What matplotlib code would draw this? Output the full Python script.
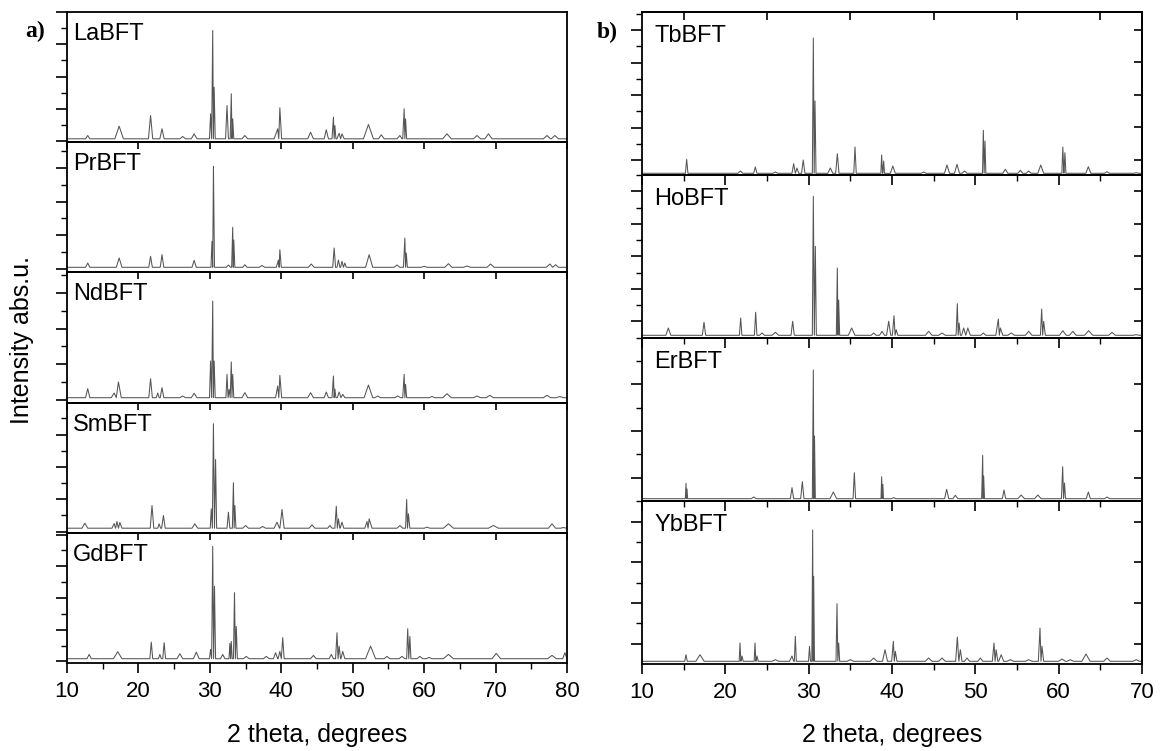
import numpy as np
import matplotlib.pyplot as plt
from matplotlib.ticker import MultipleLocator, NullLocator, FixedLocator

plt.rcParams['font.family'] = ['Liberation Sans', 'DejaVu Sans']

# peak lists: 2theta position, intensity (a.u.), half width of the foot
la_pos = [12.9, 17.3, 21.7, 23.3, 26.2, 27.8, 30.1, 30.4, 30.6, 32.4, 33.0, 33.2, 34.9, 39.5, 39.8,
          44.1, 46.3, 47.3, 47.5, 48.1, 48.5, 52.2, 54.0, 56.6, 57.2, 57.4, 63.2, 67.4, 69.0, 77.2, 78.3]
la_int = [5.7, 15, 25.7, 12.4, 4.7, 7.4, 27.4, 110.7, 54, 35.7, 47.4, 22.4, 5.7, 12.4, 33.4,
          9, 11.4, 24, 15.7, 8, 7.4, 16.7, 6.4, 5.7, 32.4, 22.4, 7.4, 5.7, 7.4, 5.7, 5.7]
la_wid = [0.3, 0.6, 0.3, 0.3, 0.4, 0.4, 0.15, 0.15, 0.15, 0.2, 0.15, 0.15, 0.4, 0.5, 0.25,
          0.4, 0.3, 0.2, 0.15, 0.3, 0.3, 0.7, 0.4, 0.4, 0.2, 0.15, 0.6, 0.5, 0.5, 0.5, 0.5]

pr_pos = [12.9, 17.3, 21.7, 23.3, 27.8, 30.3, 30.5, 32.6, 33.2, 33.35, 34.9, 37.3, 39.6, 39.8, 44.2,
          47.4, 48.0, 48.5, 48.9, 52.3, 56.2, 57.3, 57.5, 60.0, 63.4, 66.0, 69.3, 77.6, 78.4]
pr_int = [6, 11, 12.7, 14.3, 8.7, 27.7, 102.7, 4, 41.7, 29, 4.3, 3.5, 9, 19.3, 5,
          21, 9, 7.7, 6, 14.3, 4, 31, 16, 2.7, 5.3, 3, 5, 5, 4.3]
pr_wid = [0.3, 0.4, 0.25, 0.25, 0.3, 0.15, 0.15, 0.3, 0.15, 0.15, 0.3, 0.4, 0.3, 0.2, 0.4,
          0.2, 0.2, 0.2, 0.2, 0.5, 0.4, 0.2, 0.15, 0.4, 0.5, 0.5, 0.5, 0.5, 0.4]

nd_pos = [12.9, 16.6, 17.2, 21.7, 22.7, 23.3, 26.2, 27.8, 30.1, 30.4, 30.6, 32.4, 32.7, 33.0, 33.2,
          34.9, 39.5, 39.8, 44.1, 46.3, 47.3, 47.5, 48.1, 48.6, 52.2, 53.5, 56.3, 57.2, 57.4, 61.1,
          63.2, 67.4, 69.2, 77.2, 79.0]
nd_int = [11.3, 7, 18, 21.3, 7, 12.3, 4, 6.7, 39, 99, 39, 25.7, 10.7, 38, 25.7,
          7.3, 14, 24.7, 7.3, 8, 24, 11, 8, 5.7, 15, 4, 4, 25.7, 15.7, 3.5,
          6.3, 4, 4.7, 4.7, 3.5]
nd_wid = [0.3, 0.4, 0.4, 0.25, 0.2, 0.25, 0.4, 0.4, 0.15, 0.15, 0.15, 0.15, 0.15, 0.15, 0.15,
          0.4, 0.3, 0.25, 0.4, 0.3, 0.2, 0.15, 0.25, 0.3, 0.6, 0.4, 0.4, 0.2, 0.15, 0.4,
          0.6, 0.5, 0.5, 0.5, 0.5]

sm_pos = [12.5, 16.6, 17.0, 17.4, 21.9, 22.9, 23.5, 27.9, 30.2, 30.5, 30.8, 32.6, 33.3, 33.5, 35.0,
          37.4, 39.4, 40.1, 44.3, 46.8, 47.7, 48.0, 48.5, 52.0, 52.3, 56.6, 57.55, 57.8, 60.4, 63.4,
          69.7, 77.9, 79.5]
sm_int = [8.3, 8, 10, 9, 26, 7.7, 16, 7.7, 22.7, 107.7, 72, 19.3, 48.7, 26, 6,
          5, 9.3, 22, 6.7, 6, 25.3, 12.7, 9.3, 10, 12.7, 6, 32, 17.7, 4.3, 7.7,
          6, 7.7, 4]
sm_wid = [0.4, 0.3, 0.3, 0.3, 0.25, 0.2, 0.25, 0.4, 0.15, 0.15, 0.15, 0.2, 0.15, 0.15, 0.4,
          0.4, 0.4, 0.3, 0.4, 0.3, 0.2, 0.2, 0.25, 0.3, 0.4, 0.4, 0.15, 0.2, 0.4, 0.7,
          0.7, 0.5, 0.4]

gd_pos = [13.1, 17.1, 21.8, 23.0, 23.6, 25.8, 28.1, 30.1, 30.4, 30.65, 31.8, 32.8, 33.0, 33.45, 33.7,
          35.1, 37.9, 39.2, 39.8, 40.2, 44.5, 47.0, 47.8, 48.1, 48.6, 52.5, 54.8, 56.9, 57.7, 58.0,
          59.4, 60.7, 63.4, 70.1, 77.9, 79.7]
gd_int = [7, 9.7, 19.3, 7, 18.7, 7.7, 9.3, 12, 115, 75, 7, 18, 20, 68.7, 35,
          5, 5, 8.7, 10, 23.7, 6, 7, 28.7, 15.3, 10, 15.3, 5, 5, 32.7, 25,
          5, 4, 7, 8, 6, 8.7]
gd_wid = [0.3, 0.6, 0.2, 0.2, 0.2, 0.4, 0.4, 0.15, 0.15, 0.15, 0.3, 0.12, 0.12, 0.15, 0.15,
          0.4, 0.4, 0.3, 0.25, 0.2, 0.4, 0.3, 0.2, 0.2, 0.3, 0.7, 0.4, 0.4, 0.15, 0.15,
          0.4, 0.4, 0.7, 0.6, 0.6, 0.3]

tb_pos = [15.36, 21.8, 23.6, 26.0, 28.2, 28.6, 29.35, 30.56, 30.76, 32.6, 33.44, 35.56, 38.76, 39.0, 40.1,
          43.8, 46.6, 47.8, 48.7, 50.96, 51.16, 53.6, 55.4, 56.4, 57.85, 60.5, 60.75, 63.56, 65.8, 69.3]
tb_int = [15.7, 4, 8, 3, 11.3, 7, 15, 137, 74, 7, 21.3, 28, 20, 14, 9,
          3, 10, 10.7, 4, 44.7, 34, 5.7, 4.7, 4, 10, 28, 22.3, 8.3, 3.3, 2.3]
tb_wid = [0.15, 0.3, 0.2, 0.3, 0.2, 0.2, 0.2, 0.12, 0.12, 0.3, 0.2, 0.15, 0.1, 0.1, 0.3,
          0.3, 0.3, 0.3, 0.3, 0.1, 0.1, 0.3, 0.3, 0.3, 0.35, 0.12, 0.12, 0.3, 0.3, 0.3]

ho_pos = [13.16, 17.44, 21.84, 23.64, 24.4, 26.0, 28.08, 30.56, 30.8, 33.44, 33.6, 35.16, 37.8, 38.8, 39.6,
          40.24, 40.5, 44.4, 46.0, 47.84, 48.05, 48.6, 49.1, 50.96, 52.76, 53.0, 54.3, 56.4, 57.96, 58.2,
          60.5, 61.7, 63.6, 66.4, 69.3]
ho_int = [10, 15.7, 20, 25.7, 5, 5.7, 16.7, 141.7, 91.7, 70, 38, 10, 5, 6.7, 16.7,
          22.3, 8.3, 6.7, 5, 34.3, 15, 10, 10, 5, 19, 10, 5, 6.7, 29, 16.7,
          7.3, 6.7, 7.3, 5.7, 3.3]
ho_wid = [0.3, 0.2, 0.15, 0.15, 0.3, 0.4, 0.2, 0.12, 0.12, 0.12, 0.12, 0.4, 0.3, 0.3, 0.25,
          0.2, 0.2, 0.4, 0.4, 0.15, 0.15, 0.25, 0.3, 0.3, 0.3, 0.3, 0.4, 0.4, 0.15, 0.2,
          0.4, 0.4, 0.5, 0.4, 0.4]

er_pos = [15.28, 15.4, 23.4, 28.0, 29.24, 30.56, 30.7, 32.96, 35.48, 38.76, 38.9, 40.2,
          46.56, 47.6, 50.88, 51.0, 53.44, 55.5, 57.5, 60.48, 60.7, 63.56, 65.8, 69.3]
er_int = [17.7, 12, 4, 13.3, 19.3, 131, 65, 9, 28.3, 24.3, 16.7, 3.3,
          11.7, 5.7, 45.7, 25, 11, 6, 6, 34.3, 18, 9, 4, 2.3]
er_wid = [0.08, 0.08, 0.3, 0.2, 0.2, 0.12, 0.1, 0.4, 0.15, 0.08, 0.08, 0.3,
          0.25, 0.3, 0.12, 0.1, 0.2, 0.4, 0.4, 0.15, 0.12, 0.25, 0.3, 0.3]

yb_pos = [15.28, 16.96, 21.76, 22.0, 23.56, 23.8, 26.0, 28.0, 28.4, 30.1, 30.48, 30.6, 33.4, 33.6, 35.0,
          37.8, 39.16, 40.16, 40.4, 44.4, 46.0, 47.84, 48.2, 49.0, 50.6, 52.24, 52.5, 53.1, 54.2, 56.4,
          57.76, 58.0, 60.4, 61.4, 63.28, 65.8, 69.3]
yb_int = [9.3, 9.3, 21, 8, 21, 8, 4.3, 8, 27.7, 17.7, 134, 87.7, 60.3, 21, 4.3,
          6, 14.3, 22.7, 12.7, 6, 6, 27, 14.3, 6, 6, 21, 14.3, 9.3, 4.3, 4.3,
          36, 17.7, 5, 4.3, 10, 6, 4.3]
yb_wid = [0.15, 0.5, 0.1, 0.15, 0.1, 0.15, 0.4, 0.3, 0.12, 0.12, 0.1, 0.1, 0.12, 0.12, 0.4,
          0.4, 0.3, 0.2, 0.2, 0.4, 0.4, 0.2, 0.2, 0.3, 0.3, 0.2, 0.2, 0.3, 0.4, 0.4,
          0.2, 0.2, 0.4, 0.4, 0.5, 0.4, 0.4]

left_names = ['LaBFT', 'PrBFT', 'NdBFT', 'SmBFT', 'GdBFT']
left_peaks = [(la_pos, la_int, la_wid), (pr_pos, pr_int, pr_wid), (nd_pos, nd_int, nd_wid),
              (sm_pos, sm_int, sm_wid), (gd_pos, gd_int, gd_wid)]
left_base = [2.4, 1.7, 2.3, 3.3, 2.7]
left_ylim = [(-1, 129.2), (-3.4, 126.8), (-2.6, 127.6), (-1.3, 128.9), (-1.6, 128.6)]
left_tick = [32.3, 33.7, 35.7, 32.3, 31.7]

right_names = ['TbBFT', 'HoBFT', 'ErBFT', 'YbBFT']
right_peaks = [(tb_pos, tb_int, tb_wid), (ho_pos, ho_int, ho_wid),
               (er_pos, er_int, er_wid), (yb_pos, yb_int, yb_wid)]
right_base = [1.7, 2.7, 2.3, 2.7]
right_tick = [(32.5, 15), (32.5, 16.7), (46.7, 23.3), (40.7, 20.3)]

for p, i, w in left_peaks + right_peaks:
    assert len(p) == len(i) == len(w), (len(p), len(i), len(w))


def profile(pos, inten, wid, base, x0, x1):
    # stick-like pattern: each peak as a narrow spike on the baseline
    xs, ys = [x0], [base]
    n = len(pos)
    for k in range(n):
        c = pos[k]
        lo, hi = c - wid[k], c + wid[k]
        if k > 0:
            lo = max(lo, (pos[k - 1] + c) / 2)
        if k < n - 1:
            hi = min(hi, (c + pos[k + 1]) / 2)
        if lo > xs[-1]:
            xs.append(lo)
            ys.append(base)
        xs.append(c)
        ys.append(inten[k])
        xs.append(hi)
        ys.append(base)
    xs.append(x1)
    ys.append(base)
    return xs, ys


W, H = 1170, 751
fig = plt.figure(figsize=(W / 100, H / 100), dpi=100)
lc = '#555555'
sw = 1.3

# left stack
top, bot = 12, 663
ph = (bot - top) / 5
for n in range(5):
    ax = fig.add_axes([67 / W, 1 - (top + (n + 1) * ph) / H, 500 / W, ph / H])
    ax.patch.set_alpha(0)
    pos, inten, wid = left_peaks[n]
    xs, ys = profile(pos, inten, wid, left_base[n], 10, 80)
    ax.plot(xs, ys, color=lc, lw=0.75)
    ax.set_xlim(10, 80)
    ax.set_ylim(*left_ylim[n])
    for s in ax.spines.values():
        s.set_linewidth(sw)
    ax.yaxis.set_major_locator(MultipleLocator(left_tick[n]))
    ax.yaxis.set_minor_locator(MultipleLocator(left_tick[n] / 2))
    ax.tick_params(axis='y', which='major', direction='out', length=8, width=1.2, labelleft=False)
    ax.tick_params(axis='y', which='minor', direction='out', length=4, width=1.0)
    ax.xaxis.set_major_locator(MultipleLocator(10))
    if n < 4:
        ax.xaxis.set_minor_locator(NullLocator())
        ax.tick_params(axis='x', which='major', direction='out', length=5, width=1.2, labelbottom=False)
    else:
        ax.xaxis.set_minor_locator(MultipleLocator(5))
        ax.tick_params(axis='x', which='major', direction='out', length=7, width=1.2,
                       labelsize=16, pad=6)
        ax.tick_params(axis='x', which='minor', direction='out', length=4, width=1.0)
    ax.text(6 / 500, 1 - 28 / ph, left_names[n], transform=ax.transAxes, fontsize=17,
            ha='left', va='baseline')

# right stack
rph = (bot + 1 - top) / 4
for n in range(4):
    ax = fig.add_axes([642 / W, 1 - (top + (n + 1) * rph) / H, 500 / W, rph / H])
    ax.patch.set_alpha(0)
    pos, inten, wid = right_peaks[n]
    xs, ys = profile(pos, inten, wid, right_base[n], 10, 70)
    ax.plot(xs, ys, color=lc, lw=0.75)
    ax.set_xlim(10, 70)
    ax.set_ylim(0, rph)
    for s in ax.spines.values():
        s.set_linewidth(sw)
    step, off = right_tick[n]
    ax.yaxis.set_major_locator(MultipleLocator(step, offset=off))
    ax.yaxis.set_minor_locator(MultipleLocator(step / 2, offset=off))
    ax.tick_params(axis='y', which='major', direction='out', length=8, width=1.2, labelleft=False)
    ax.tick_params(axis='y', which='minor', direction='out', length=4, width=1.0)
    ax.xaxis.set_major_locator(MultipleLocator(10))
    ax.xaxis.set_minor_locator(MultipleLocator(5))
    ax.tick_params(axis='x', which='major', direction='out', length=7, width=1.2,
                   labelbottom=(n == 3), labelsize=16, pad=6)
    ax.tick_params(axis='x', which='minor', direction='out', length=4, width=1.0)
    sec = ax.secondary_yaxis('right')
    sec.yaxis.set_major_locator(MultipleLocator(step, offset=off))
    sec.yaxis.set_minor_locator(NullLocator())
    sec.tick_params(axis='y', direction='in', length=6, width=1.2, labelright=False)
    sec.spines['right'].set_linewidth(sw)
    if n == 0:
        sx = ax.secondary_xaxis('top')
        sx.xaxis.set_major_locator(FixedLocator([15, 25, 35, 45, 55, 65]))
        sx.xaxis.set_minor_locator(NullLocator())
        sx.tick_params(axis='x', direction='in', length=6, width=1.2, labeltop=False)
        sx.spines['top'].set_linewidth(sw)
    ax.text(12 / 500, 1 - 30 / rph, right_names[n], transform=ax.transAxes, fontsize=17,
            ha='left', va='baseline')

fig.text(25 / W, 1 - 37 / H, 'a)', fontsize=17, fontweight='bold', family='Liberation Serif',
         ha='left', va='baseline')
fig.text(597 / W, 1 - 38 / H, 'b)', fontsize=17, fontweight='bold', family='Liberation Serif',
         ha='left', va='baseline')
fig.text(317 / W, 1 - 735 / H, '2 theta, degrees', fontsize=18, ha='center', va='center')
fig.text(892 / W, 1 - 735 / H, '2 theta, degrees', fontsize=18, ha='center', va='center')
fig.text(22 / W, 1 - 340 / H, 'Intensity abs.u.', fontsize=18, rotation=90, ha='center', va='center')

fig.savefig('out.png', dpi=100, facecolor='white')
